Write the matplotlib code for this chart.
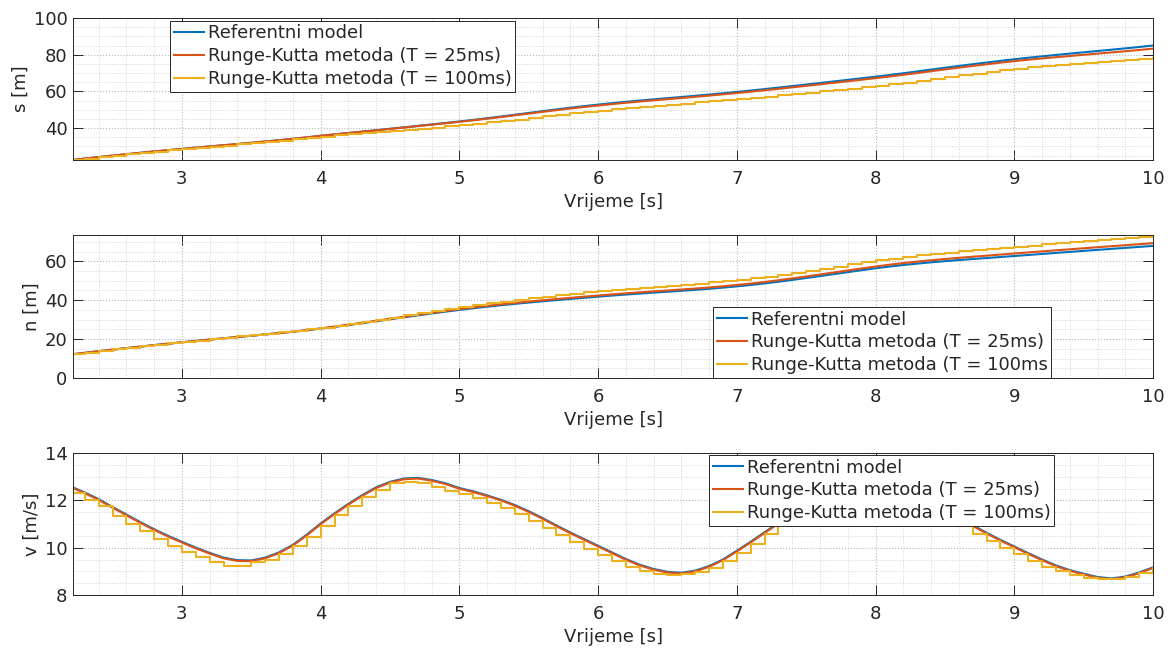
import numpy as np
import matplotlib
matplotlib.use("Agg")
import matplotlib.pyplot as plt
from matplotlib.ticker import MultipleLocator

plt.rcParams['font.family'] = ['DejaVu Sans']
FS = 13
plt.rcParams['font.size'] = FS

# time samples (0.1 s)
t = np.round(np.arange(2.2, 10.0001, 0.1), 1)

labels = ["Referentni model", "Runge-Kutta metoda (T = 25ms)", "Runge-Kutta metoda (T = 100ms)"]
labels_mid = ["Referentni model", "Runge-Kutta metoda (T = 25ms)", "Runge-Kutta metoda (T = 100ms"]

s_ref = [22.50, 23.35, 24.18, 24.98, 25.76, 26.52, 27.25, 27.95, 28.63,
         29.31, 29.98, 30.64, 31.30, 31.97, 32.66, 33.38, 34.14, 34.94, 35.80,
         36.55, 37.31, 38.08, 38.85, 39.63, 40.41, 41.20, 41.99, 42.79, 43.60,
         44.46, 45.36, 46.30, 47.27, 48.25, 49.22, 50.17, 51.09, 51.97, 52.80,
         53.58, 54.31, 55.00, 55.66, 56.30, 56.94, 57.60, 58.28, 58.98, 59.70,
         60.46, 61.25, 62.06, 62.89, 63.73, 64.58, 65.43, 66.29, 67.14, 68.00,
         68.92, 69.88, 70.87, 71.87, 72.87, 73.85, 74.81, 75.73, 76.63, 77.50,
         78.32, 79.10, 79.85, 80.58, 81.30, 82.01, 82.72, 83.44, 84.19, 85.00]
s_rk25 = [22.50, 23.35, 24.18, 24.98, 25.76, 26.52, 27.25, 27.95, 28.63,
          29.31, 29.98, 30.64, 31.30, 31.97, 32.66, 33.38, 34.14, 34.94, 35.80,
          36.53, 37.27, 38.02, 38.77, 39.53, 40.29, 41.06, 41.83, 42.61, 43.40,
          44.23, 45.10, 46.01, 46.95, 47.90, 48.84, 49.76, 50.66, 51.51, 52.30,
          53.07, 53.79, 54.47, 55.12, 55.75, 56.38, 57.03, 57.70, 58.39, 59.10,
          59.84, 60.61, 61.40, 62.21, 63.03, 63.86, 64.69, 65.53, 66.36, 67.20,
          68.10, 69.04, 70.01, 70.99, 71.97, 72.93, 73.87, 74.77, 75.65, 76.50,
          77.25, 77.96, 78.64, 79.30, 79.95, 80.59, 81.23, 81.88, 82.56, 83.30]
s_rk100 = [22.50, 23.35, 24.18, 24.98, 25.76, 26.47, 27.20, 27.85, 28.53,
           29.21, 29.83, 30.44, 31.10, 31.72, 32.36, 33.08, 33.79, 34.54, 35.35,
           36.00, 36.61, 37.23, 37.85, 38.48, 39.11, 39.70, 40.29, 40.94, 41.60,
           42.31, 43.06, 43.85, 44.67, 45.50, 46.32, 47.17, 47.99, 48.77, 49.55,
           50.28, 50.96, 51.60, 52.21, 52.80, 53.39, 54.00, 54.58, 55.18, 55.80,
           56.46, 57.15, 57.86, 58.59, 59.33, 60.08, 60.83, 61.54, 62.29, 63.05,
           63.92, 64.83, 65.77, 66.77, 67.72, 68.70, 69.61, 70.53, 71.43, 72.30,
           73.02, 73.65, 74.25, 74.78, 75.30, 75.81, 76.32, 76.84, 77.39, 78.10]

n_ref = [12.10, 12.94, 13.76, 14.56, 15.35, 16.13, 16.89, 17.63, 18.35,
         19.05, 19.73, 20.40, 21.06, 21.72, 22.39, 23.08, 23.80, 24.57, 25.40,
         26.28, 27.21, 28.18, 29.18, 30.19, 31.20, 32.19, 33.16, 34.10, 35.00,
         35.85, 36.65, 37.40, 38.11, 38.78, 39.42, 40.04, 40.64, 41.22, 41.80,
         42.36, 42.89, 43.39, 43.87, 44.34, 44.82, 45.32, 45.86, 46.45, 47.10,
         47.82, 48.62, 49.49, 50.42, 51.39, 52.39, 53.40, 54.41, 55.41, 56.40,
         57.28, 58.08, 58.80, 59.46, 60.06, 60.62, 61.15, 61.66, 62.18, 62.70,
         63.23, 63.76, 64.29, 64.82, 65.34, 65.86, 66.37, 66.88, 67.39, 67.90]
n_rk25 = [12.10, 12.94, 13.76, 14.56, 15.35, 16.13, 16.89, 17.63, 18.35,
          19.05, 19.73, 20.40, 21.06, 21.72, 22.39, 23.08, 23.80, 24.57, 25.50,
          26.41, 27.37, 28.37, 29.40, 30.44, 31.47, 32.49, 33.49, 34.46, 35.40,
          36.27, 37.09, 37.86, 38.59, 39.28, 39.94, 40.58, 41.20, 41.80, 42.40,
          42.97, 43.51, 44.02, 44.51, 44.99, 45.48, 45.99, 46.54, 47.14, 47.80,
          48.54, 49.36, 50.25, 51.20, 52.19, 53.21, 54.24, 55.27, 56.29, 57.30,
          58.22, 59.06, 59.82, 60.52, 61.16, 61.76, 62.33, 62.88, 63.44, 64.00,
          64.54, 65.08, 65.62, 66.16, 66.69, 67.22, 67.74, 68.26, 68.78, 69.30]
n_rk100 = [12.10, 12.94, 13.81, 14.66, 15.45, 16.28, 17.04, 17.83, 18.55,
           19.25, 19.98, 20.65, 21.36, 22.02, 22.74, 23.48, 24.20, 25.02, 25.90,
           26.83, 27.86, 28.93, 30.03, 31.09, 32.20, 33.29, 34.36, 35.35, 36.30,
           37.35, 38.35, 39.30, 40.16, 40.98, 41.82, 42.59, 43.34, 44.07, 44.80,
           45.41, 45.99, 46.49, 47.02, 47.54, 48.02, 48.57, 49.11, 49.75, 50.40,
           51.22, 52.12, 53.09, 54.12, 55.19, 56.24, 57.30, 58.36, 59.41, 60.40,
           61.38, 62.28, 63.10, 63.81, 64.46, 65.12, 65.75, 66.36, 66.93, 67.50,
           68.08, 68.66, 69.24, 69.87, 70.44, 71.01, 71.57, 72.13, 72.69, 73.25]

v_ref = [12.58, 12.33, 12.05, 11.72, 11.40, 11.08, 10.78, 10.50, 10.25,
         10.00, 9.78, 9.58, 9.47, 9.46, 9.58, 9.80, 10.12, 10.55, 11.02,
         11.45, 11.85, 12.22, 12.55, 12.78, 12.92, 12.95, 12.86, 12.72, 12.52,
         12.38, 12.21, 12.02, 11.80, 11.54, 11.25, 10.94, 10.64, 10.36, 10.08,
         9.80, 9.52, 9.28, 9.10, 8.98, 8.94, 9.03, 9.22, 9.50, 9.87,
         10.25, 10.65, 11.05, 11.42, 11.76, 12.05, 12.30, 12.47, 12.55, 12.55,
         12.45, 12.30, 12.10, 11.85, 11.57, 11.27, 10.95, 10.63, 10.33, 10.05,
         9.77, 9.50, 9.25, 9.05, 8.90, 8.76, 8.70, 8.78, 8.95, 9.17]
v_rk25 = [12.56, 12.30, 12.02, 11.69, 11.37, 11.05, 10.75, 10.47, 10.22,
          9.97, 9.75, 9.55, 9.44, 9.43, 9.55, 9.77, 10.09, 10.52, 10.99,
          11.42, 11.82, 12.19, 12.52, 12.75, 12.89, 12.92, 12.83, 12.69, 12.49,
          12.35, 12.18, 12.00, 11.77, 11.51, 11.22, 10.91, 10.61, 10.33, 10.05,
          9.77, 9.49, 9.25, 9.07, 8.95, 8.91, 9.00, 9.19, 9.47, 9.84,
          10.22, 10.62, 11.02, 11.39, 11.73, 12.02, 12.27, 12.44, 12.52, 12.52,
          12.42, 12.27, 12.07, 11.82, 11.54, 11.24, 10.92, 10.60, 10.30, 10.02,
          9.74, 9.47, 9.22, 9.02, 8.87, 8.73, 8.67, 8.75, 8.92, 9.14]
v_rk100 = [12.31, 12.03, 11.74, 11.35, 11.01, 10.69, 10.37, 10.08, 9.82,
           9.60, 9.38, 9.24, 9.24, 9.38, 9.50, 9.75, 10.05, 10.45, 10.92,
           11.36, 11.76, 12.12, 12.45, 12.74, 12.77, 12.72, 12.58, 12.39, 12.26,
           12.09, 11.90, 11.68, 11.42, 11.13, 10.82, 10.52, 10.24, 9.96, 9.68,
           9.42, 9.18, 9.00, 8.88, 8.86, 8.88, 8.97, 9.15, 9.42, 9.79,
           10.17, 10.57, 10.95, 11.32, 11.66, 11.95, 12.18, 12.35, 12.42, 12.38,
           12.18, 11.98, 11.73, 11.45, 11.15, 10.90, 10.58, 10.28, 10.00, 9.72,
           9.45, 9.20, 9.00, 8.85, 8.71, 8.66, 8.66, 8.74, 8.91, 9.13]

C_BLUE = '#0072BD'
C_RED = '#D95319'
C_YEL = '#EDB120'
AX_COL = '#262626'

W, H = 1171, 648
fig = plt.figure(figsize=(W / 100, H / 100), dpi=100)

def px_rect(left, top, right, bottom):
    return [left / W, 1 - bottom / H, (right - left) / W, (bottom - top) / H]

axes_rects = [px_rect(73, 18, 1153, 160), px_rect(73, 235, 1153, 378), px_rect(73, 453, 1153, 595)]
data = [(s_ref, s_rk25, s_rk100, "s [m]", (22.6, 100), 20, 5),
        (n_ref, n_rk25, n_rk100, "n [m]", (0, 73.5), 20, 5),
        (v_ref, v_rk25, v_rk100, "v [m/s]", (8, 14), 2, 0.5)]
leg_pos = [(170, 20.7), (713, 307), (709, 455)]
leg_labels = [labels, labels_mid, labels]

for i, (rect, (yr, y25, y100, ylab, ylim, major, minor)) in enumerate(zip(axes_rects, data)):
    ax = fig.add_axes(rect)
    l1, = ax.plot(t, yr, color=C_BLUE, lw=1.5)
    l2, = ax.plot(t, y25, color=C_RED, lw=1.5)
    l3, = ax.step(t, y100, where='post', color=C_YEL, lw=1.5)
    ax.set_xlim(2.215, 10)
    ax.set_ylim(*ylim)
    ax.xaxis.set_major_locator(MultipleLocator(1))
    ax.xaxis.set_minor_locator(MultipleLocator(0.2))
    ax.yaxis.set_major_locator(MultipleLocator(major))
    ax.yaxis.set_minor_locator(MultipleLocator(minor))
    ax.grid(True, which='major', linestyle=':', color='#b8b8b8', linewidth=0.8)
    ax.grid(True, which='minor', linestyle=':', color='#d4d4d4', linewidth=0.7)
    ax.set_axisbelow(True)
    ax.tick_params(which='major', direction='in', length=7, width=0.7, colors=AX_COL,
                   top=True, right=True, labelsize=FS)
    ax.tick_params(axis='x', which='major', pad=7.5)
    ax.tick_params(axis='y', which='major', pad=4)
    ax.tick_params(which='minor', length=0, top=True, right=True)
    for sp in ax.spines.values():
        sp.set_color(AX_COL)
        sp.set_linewidth(0.7)
    ax.set_xlabel("Vrijeme [s]", fontsize=FS, color=AX_COL, labelpad=3)
    ax.set_ylabel(ylab, fontsize=FS, color=AX_COL, labelpad=3)
    lx, ly = leg_pos[i]
    leg = ax.legend([l1, l2, l3], leg_labels[i], loc='upper left',
                    bbox_to_anchor=(lx / W, 1 - ly / H), bbox_transform=fig.transFigure,
                    fontsize=FS, frameon=True, fancybox=False, framealpha=1,
                    edgecolor=AX_COL, borderaxespad=0, borderpad=0.2,
                    handlelength=1.7, handletextpad=0.2, labelspacing=0.27)
    leg.get_frame().set_linewidth(0.7)
    for txt in leg.get_texts():
        txt.set_color(AX_COL)

fig.savefig("out.png", dpi=100)
